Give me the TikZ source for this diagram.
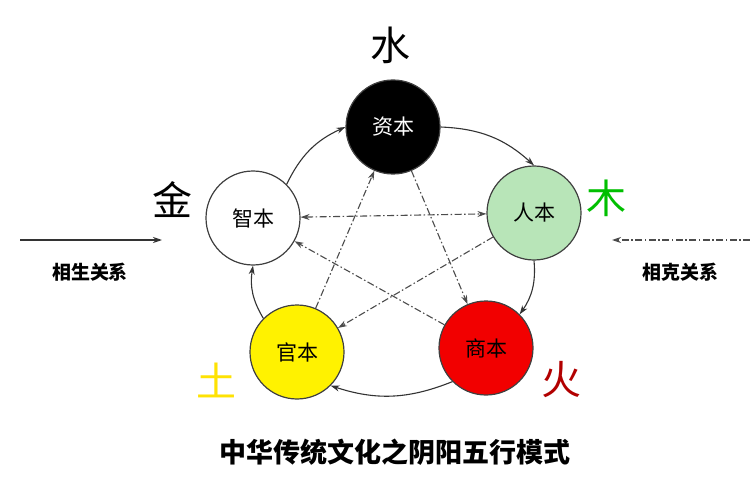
\documentclass[tikz,border=0pt]{standalone}
\usepackage{fontspec}
\newfontfamily\cjk{Noto Sans CJK SC}
\usetikzlibrary{arrows.meta}
\begin{document}
\begin{tikzpicture}[x=1pt,y=-1pt,
 ball/.style={circle,draw=black!75,line width=1.2pt,minimum size=94pt,inner sep=0pt,font=\cjk\fontsize{21}{21}\selectfont},
 gen/.style={-{Stealth[length=9pt,width=6pt]},line width=1.1pt,black!80},
 ke/.style={-{Stealth[length=9pt,width=6pt]},line width=1.1pt,black!70,dash pattern=on 7pt off 2.5pt on 1.5pt off 2.5pt},
 elem/.style={font=\cjk\fontsize{40}{40}\selectfont},
 lab/.style={font=\cjk\bfseries\fontsize{19}{19}\selectfont}]
\useasboundingbox (0,0) rectangle (750,500);
\fill[white] (0,0) rectangle (750,500);
\node[ball,fill=black,text=white] (zi) at (393,127) {资本};
\node[ball,fill=green!20!white!90!black] (ren) at (534,213) {人本};
\node[ball,fill=red!95!black] (shang) at (486,348) {商本};
\node[ball,fill=yellow] (guan) at (297,352) {官本};
\node[ball,fill=white] (zhi) at (253,218) {智本};
\node[elem] (shui) at (390,45) {水};
\node[elem,text=green!75!black] (mu) at (606,198) {木};
\node[elem,text=red!70!black] (huo) at (561,380) {火};
\node[elem,text=yellow!85!orange] (tu) at (216,380) {土};
\node[elem] (jin) at (172,200) {金};
\draw[gen] (zi.east) to[bend left=20] (ren.north);
\draw[gen] (ren.south) to[bend left=20] (shang.north east);
\draw[gen] (shang.south west) to[bend left=20] (guan.south east);
\draw[gen] (guan.north west) to[bend left=20] (zhi.south);
\draw[gen] (zhi.north east) to[bend left=20] (zi.west);
\draw[ke] (zi) -- (shang);
\draw[ke] (shang) -- (zhi);
\draw[ke,{Stealth[length=9pt,width=6pt]}-{Stealth[length=9pt,width=6pt]}] (zhi) -- (ren);
\draw[ke] (ren) -- (guan);
\draw[ke] (guan) -- (zi);
\coordinate (l1) at (20,240); \coordinate (l2) at (162,240);
\draw[gen] (l1) -- (l2);
\coordinate (r1) at (750,240); \coordinate (r2) at (612,240);
\draw[ke] (r1) -- (r2);
\node[lab] (sheng) at (90,272) {相生关系};
\node[lab] (kk) at (680,272) {相克关系};
\node[font=\cjk\bfseries\fontsize{27}{27}\selectfont] (title) at (395,452) {中华传统文化之阴阳五行模式};
\end{tikzpicture}
\end{document}
